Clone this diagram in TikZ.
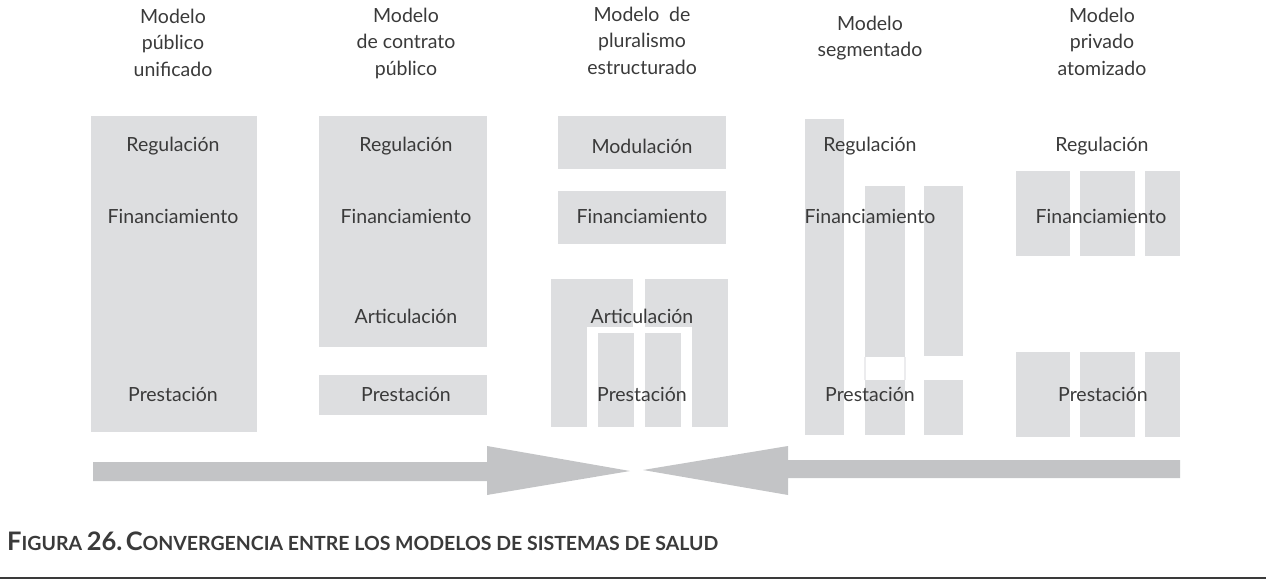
\documentclass[tikz,border=0pt]{standalone}
\usepackage{fontspec}
\setmainfont{Lato}
\definecolor{boxgray}{HTML}{DDDEE0}
\definecolor{arrowgray}{HTML}{C3C4C6}
\definecolor{txt}{HTML}{3A3A3A}
\definecolor{faint}{HTML}{ECECEE}
\newcommand\bigc[1]{{\fontsize{25.5}{25}\selectfont #1}}
\newcommand\blk[5]{\node[blockbox, minimum width=#4-#2, minimum height=#5-#3, anchor=north west] (#1) at (#2,#3) {};}
\begin{document}
\begin{tikzpicture}[x=1pt,y=-1pt,
  blockbox/.style={fill=boxgray, draw=none, inner sep=0pt, outer sep=0pt},
  lbl/.style={text=txt, font=\fontsize{19.5}{24}\selectfont, inner sep=0pt},
  head/.style={text=txt, font=\fontsize{19.5}{26.5}\selectfont, align=center, inner sep=0pt},
  arrowfill/.style={fill=arrowgray, draw=none}]
\useasboundingbox (0,0) rectangle (1269,585);
% column 1
\blk{c1}{91}{116}{257}{432}
% column 2
\blk{c2a}{319}{116}{487}{347}
\blk{c2b}{319}{375}{487}{415}
% column 3
\blk{c3m}{558}{116}{726}{169}
\blk{c3f}{558}{191}{726}{244}
\blk{c3tl}{551}{279}{633}{327}
\blk{c3pl}{551}{326}{587}{427}
\blk{c3tr}{645}{279}{728}{327}
\blk{c3pr}{692}{326}{728}{427}
\blk{c3i1}{598}{333}{634}{427}
\blk{c3i2}{645}{333}{681}{427}
% column 4
\blk{c4l}{805}{119}{844}{435}
\blk{c4m}{865}{186}{905}{357}
\blk{c4mb}{865}{380}{905}{435}
\blk{c4r}{924}{186}{963}{356}
\blk{c4rb}{924}{380}{963}{435}
\draw[faint, line width=1.2pt] (c4m.south west) -- ++(0,23) (c4m.south east) -- ++(0,23);
% column 5
\blk{c5a}{1016}{171}{1070}{256}
\blk{c5b}{1080}{171}{1135}{256}
\blk{c5c}{1145}{171}{1180}{256}
\blk{c5d}{1016}{352}{1070}{437}
\blk{c5e}{1080}{352}{1135}{437}
\blk{c5f}{1145}{352}{1180}{437}
% headers
\node[head] (h1) at (173,42.5) {Modelo\\público\\unificado};
\node[head] (h2) at (406,43) {Modelo\\de contrato\\público};
\node[head] (h3) at (642,40.5) {Modelo\enspace de\\pluralismo\\estructurado};
\node[head] (h4) at (870,38) {Modelo\\segmentado};
\node[head] (h5) at (1102,41.5) {Modelo\\privado\\atomizado};
% labels
\node[lbl] (l1r) at (173,146) {Regulación};
\node[lbl] (l1f) at (173,216) {Financiamiento};
\node[lbl] (l1p) at (173,394) {Prestación};
\node[lbl] (l2r) at (406,146) {Regulación};
\node[lbl] (l2f) at (406,216) {Financiamiento};
\node[lbl] (l2a) at (406,316) {Articulación};
\node[lbl] (l2p) at (406,394) {Prestación};
\node[lbl] (l3m) at (642,146) {Modulación};
\node[lbl] (l3f) at (642,216) {Financiamiento};
\node[lbl] (l3a) at (642,316) {Articulación};
\node[lbl] (l3p) at (642,394) {Prestación};
\node[lbl] (l4r) at (870,146) {Regulación};
\node[lbl] (l4f) at (870,216) {Financiamiento};
\node[lbl] (l4p) at (870,394) {Prestación};
\node[lbl] (l5r) at (1102,146) {Regulación};
\node[lbl] (l5f) at (1101,216) {Financiamiento};
\node[lbl] (l5p) at (1103,394) {Prestación};
% arrows
\coordinate (tipL) at (630,471);
\coordinate (tipR) at (643,470);
\fill[arrowfill] (93,462) -- (487,462) -- (487,446) -- (tipL) -- (487,495) -- (487,481) -- (93,481) -- cycle;
\fill[arrowfill] (1180,460) -- (788,460) -- (788,446) -- (tipR) -- (788,495) -- (788,478) -- (1180,478) -- cycle;
% caption
\node[anchor=west, text=txt, inner sep=0pt, font=\bfseries\fontsize{19.5}{22}\selectfont] (cap) at (7,541)
  {\bigc{F}IGURA \bigc{26.}\,\bigc{C}ONVERGENCIA ENTRE LOS MODELOS DE SISTEMAS DE SALUD};
\coordinate (lineA) at (0,578);
\coordinate (lineB) at (1266,578);
\draw[txt, line width=1.2pt] (lineA) -- (lineB);
\end{tikzpicture}
\end{document}
